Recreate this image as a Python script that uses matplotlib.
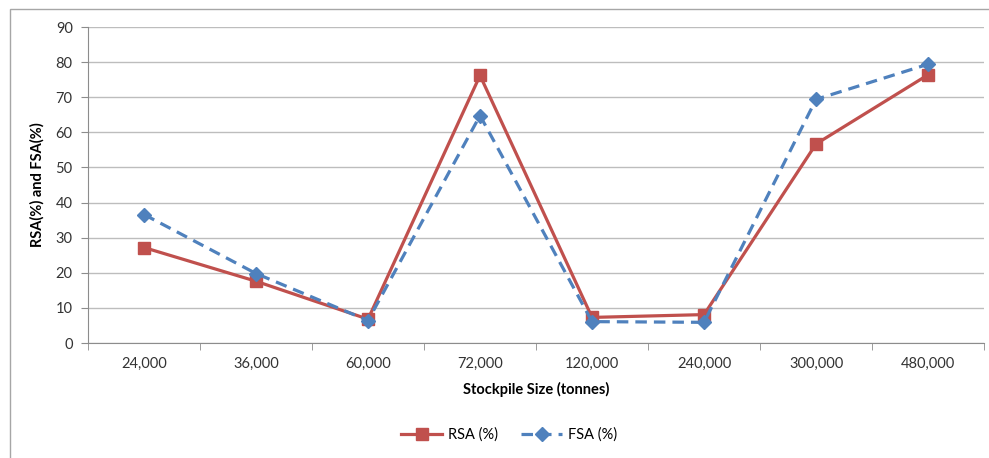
import matplotlib
matplotlib.use("Agg")
import matplotlib.pyplot as plt
from matplotlib.patches import Rectangle

sizes = ["24,000", "36,000", "60,000", "72,000", "120,000", "240,000", "300,000", "480,000"]
rsa = [27.2, 17.6, 6.8, 76.2, 7.3, 8.1, 56.7, 76.4]
fsa = [36.6, 19.8, 6.4, 64.8, 6.1, 5.9, 69.4, 79.4]
y_ticks = [0, 10, 20, 30, 40, 50, 60, 70, 80, 90]

RED = "#C0504D"
BLUE = "#4F81BD"
GRID = "#BDBDBD"
AXIS = "#8C8C8C"

plt.rcParams.update({"font.family": ["Lato", "DejaVu Sans"], "font.size": 10.5})

fig = plt.figure(figsize=(9.89, 4.58), dpi=100)
ax = fig.add_axes([0.089, 0.251, 0.906, 0.690])

# chart area border (runs off the right and bottom edges)
fig.patches.append(Rectangle((0.0101, -0.05), 1.2, 1.0303, transform=fig.transFigure,
                             fill=False, edgecolor="#A6A6A6", lw=1.0, clip_on=False))

x = list(range(len(sizes)))
ax.plot(x, rsa, color=RED, lw=2.3, marker="s", ms=8, label="RSA (%)", zorder=3)
ax.plot(x, fsa, color=BLUE, lw=2.3, ls=(0, (3.6, 2.2)), marker="D", ms=7,
        label="FSA (%)", zorder=4)

ax.set_xlim(-0.5, len(sizes) - 0.5)
ax.set_ylim(0, 90)
ax.set_yticks(y_ticks)
ax.set_xticks(x)
ax.set_xticklabels(sizes)
ax.tick_params(axis="x", length=0, pad=10, colors="#333333")
ax.set_xticks([i + 0.5 for i in range(-1, len(sizes))], minor=True)
ax.tick_params(axis="x", which="minor", length=5, color=AXIS, direction="out")
ax.tick_params(axis="y", length=5, color=AXIS, colors="#333333", pad=6)

ax.grid(axis="y", color=GRID, lw=1.0)
ax.set_axisbelow(True)
for s in ["top", "right"]:
    ax.spines[s].set_visible(False)
for s in ["left", "bottom"]:
    ax.spines[s].set_color(AXIS)

ax.set_xlabel("Stockpile Size (tonnes)", fontweight="bold", labelpad=8)
ax.set_ylabel("RSA(%) and FSA(%)", fontweight="bold", labelpad=8)

fig.legend(loc="center", bbox_to_anchor=(509 / 989, 1 - 435 / 458), ncol=2,
           frameon=False, handlelength=2.8, handletextpad=0.4, columnspacing=1.6,
           fontsize=10.5)

fig.savefig("out.png", dpi=100)
